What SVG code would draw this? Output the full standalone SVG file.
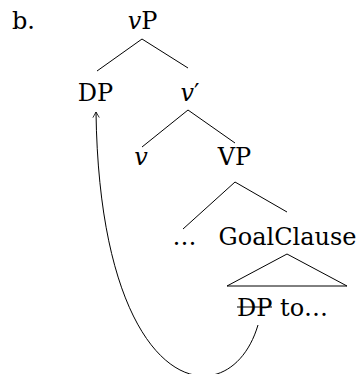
<svg xmlns="http://www.w3.org/2000/svg" width="358" height="374" viewBox="0 0 358 374">
<style>
text{font-family:"DejaVu Serif","Liberation Serif",serif;font-size:24px;fill:#000}
.m{text-anchor:middle}
.i{font-style:italic}
line,path{stroke:#000;stroke-width:1;fill:none}
</style>
<defs>
<marker id="ah" viewBox="0 0 10 10" refX="8" refY="5" markerWidth="8" markerHeight="8" orient="auto-start-reverse" markerUnits="userSpaceOnUse">
<path d="M1,1 L8,5 L1,9" stroke-width="1.2"/>
</marker>
</defs>
<text x="12" y="29">b.</text>
<g id="vP"><text class="m" x="142.5" y="29"><tspan class="i">v</tspan>P</text></g>
<g id="DP"><text class="m" x="95.5" y="101">DP</text></g>
<g id="vbar"><text class="m" x="190" y="101"><tspan class="i">v</tspan>′</text></g>
<g id="v"><text class="m i" x="141" y="165">v</text></g>
<g id="VP"><text class="m" x="234.5" y="165">VP</text></g>
<g id="dots"><text class="m" x="184.5" y="245">…</text></g>
<g id="GoalClause"><text class="m" x="287.5" y="245">GoalClause</text>
<path d="M287,254 L227,286 L347,286 Z" stroke-linejoin="miter"/></g>
<g id="DPto"><text x="237" y="316">DP to…</text><line x1="237" y1="307" x2="272" y2="307"/></g>
<g id="connectors">
<line x1="142" y1="39" x2="97" y2="71"/>
<line x1="142" y1="39" x2="188" y2="68"/>
<line x1="188" y1="110" x2="142" y2="147"/>
<line x1="188" y1="110" x2="235" y2="143"/>
<line x1="235" y1="182" x2="183" y2="229"/>
<line x1="235" y1="182" x2="287" y2="212"/>
<path d="M258,325 C230,420 100,400 96,112" marker-end="url(#ah)"/>
</g>
</svg>
